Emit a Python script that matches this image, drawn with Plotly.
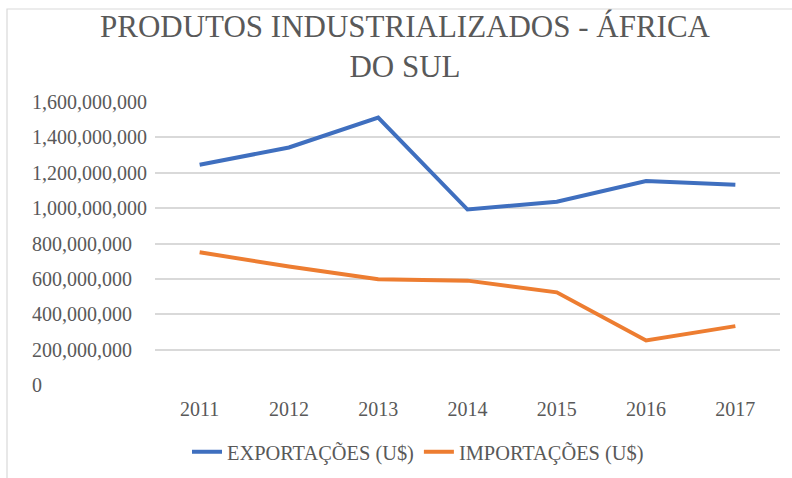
import plotly.graph_objects as go

years = ["2011", "2012", "2013", "2014", "2015", "2016", "2017"]
exportacoes = [1245e6, 1343e6, 1512e6, 992e6, 1036e6, 1153e6, 1132e6]
importacoes = [750e6, 670e6, 598e6, 590e6, 524e6, 252e6, 333e6]
y_ticks = [0, 200e6, 400e6, 600e6, 800e6, 1000e6, 1200e6, 1400e6, 1600e6]
y_tick_labels = ["0", "200,000,000", "400,000,000", "600,000,000", "800,000,000",
                 "1,000,000,000", "1,200,000,000", "1,400,000,000", "1,600,000,000"]

FONT = "Liberation Serif"
GRAY = "#595959"

W, H = 792, 478
L, R, T, B = 155, 12, 102, 93
pw, ph = W - L - R, H - T - B

def px_x(x):
    return (x - L) / pw

def px_y(y):
    return (H - B - y) / ph

fig = go.Figure()
fig.add_trace(go.Scatter(x=years, y=exportacoes, mode="lines", name="EXPORTAÇÕES (U$)",
                         line=dict(color="#3F6FBF", width=4)))
fig.add_trace(go.Scatter(x=years, y=importacoes, mode="lines", name="IMPORTAÇÕES (U$)",
                         line=dict(color="#ED7D31", width=4)))

annotations = []
for v, lab in zip(y_ticks, y_tick_labels):
    annotations.append(dict(x=px_x(30), xref="paper", y=v, yref="y", text=lab,
                            showarrow=False, xanchor="left", yanchor="middle",
                            font=dict(family=FONT, size=20, color=GRAY)))

fig.update_layout(
    width=W, height=H,
    margin=dict(l=L, r=R, t=T, b=B),
    paper_bgcolor="white", plot_bgcolor="white",
    font=dict(family=FONT, color=GRAY),
    title=dict(text="PRODUTOS INDUSTRIALIZADOS - ÁFRICA<br>DO SUL",
               x=405 / W, xanchor="center", xref="container",
               y=1 - 37 / H, yanchor="top", yref="container",
               font=dict(family=FONT, size=31, color=GRAY)),
    xaxis=dict(type="category", range=[-0.5, 6.5], showgrid=False, zeroline=False,
               showline=False, ticks="", tickfont=dict(family=FONT, size=20, color=GRAY),
               ticklabelstandoff=10),
    yaxis=dict(range=[0, 1600e6], tickvals=y_ticks, showticklabels=False,
               showgrid=True, gridcolor="#D9D9D9", gridwidth=1.5, zeroline=False,
               showline=False, ticks=""),
    legend=dict(orientation="h", xref="container", x=418 / W, xanchor="center",
                yref="container", y=1 - 452 / H, yanchor="middle",
                font=dict(family=FONT, size=20.4, color=GRAY), itemwidth=30,
                traceorder="normal"),
    annotations=annotations,
    shapes=[dict(type="rect", xref="paper", yref="paper",
                 x0=px_x(7), x1=px_x(800), y0=px_y(490), y1=px_y(9),
                 line=dict(color="#D9D9D9", width=1.2), fillcolor="rgba(0,0,0,0)",
                 layer="below")],
    showlegend=True,
)

fig.write_html("out.html", config={"displayModeBar": False},
               post_script="document.body.style.margin='0';")
